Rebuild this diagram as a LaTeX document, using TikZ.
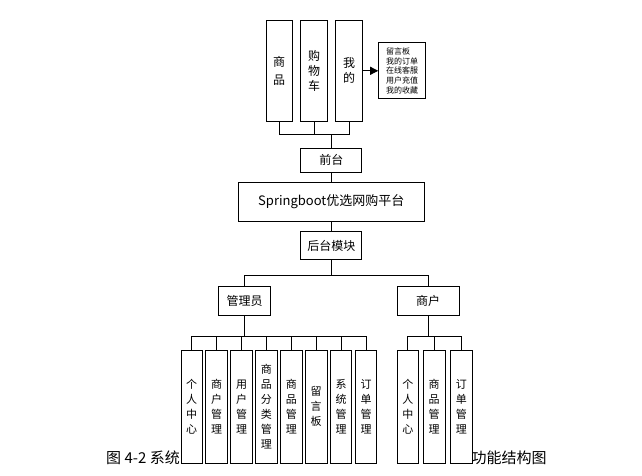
\documentclass[tikz,border=0pt]{standalone}
\usepackage{fontspec}
\setmainfont{Noto Sans CJK SC}
\usetikzlibrary{arrows.meta,positioning}

\begin{document}
\begin{tikzpicture}[x=1pt, y=1pt]
                \tikzstyle{box} = [draw, line width=0.9pt, fill=white, inner sep=0pt, align=center]
                \tikzstyle{top} = [box, minimum width=26.5pt, minimum height=101.5pt, font=\fontsize{12}{15}\selectfont]
                \tikzstyle{mid} = [box, minimum width=61pt, font=\fontsize{12}{14}\selectfont]
                \tikzstyle{col} = [box, minimum width=21.5pt, minimum height=113pt, font=\fontsize{11}{15}\selectfont]
                \tikzstyle{l} = [draw, line width=0.9pt]
                \useasboundingbox (0,0) rectangle (642,-475);

                \node [box, minimum width=186pt, minimum height=38.5pt, font=\fontsize{13}{15}\selectfont] (platform) at (331.3,-201.7) {Springboot优选网购平台};
                \node [mid, minimum height=24.5pt, above=9pt of platform] (front) {前台};
                \node [mid, minimum height=28.5pt, below=9.5pt of platform] (back) {后台模块};

                \node [top] (cart) at (314,-70.8) {购\\物\\车};
                \node [top, left=7.4pt of cart] (goods) {商\\[3pt]品};
                \node [top, right=7.6pt of cart] (mine) {我\\的};
                \node [box, right=15.5pt of mine, minimum width=47pt, minimum height=56pt, align=left, font=\fontsize{8}{9.75}\selectfont] (menu) {留言板\\我的订单\\在线客服\\用户充值\\我的收藏};

                \node [mid, minimum width=52.5pt, minimum height=29.5pt] (admin) at (244.5,-300.8) {管理员};
                \node [mid, minimum width=61.5pt, minimum height=28.5pt] (seller) at (428.2,-300.8) {商户};

                \node [col] (a1) at (191.7,-406.7) {个\\人\\中\\心};
                \node [col, right=2.5pt of a1] (a2) {商\\户\\管\\理};
                \node [col, right=2.5pt of a2] (a3) {用\\户\\管\\理};
                \node [col, right=2.5pt of a3] (a4) {商\\品\\分\\类\\管\\理};
                \node [col, right=2.5pt of a4] (a5) {商\\品\\管\\理};
                \node [col, right=2.5pt of a5] (a6) {留\\言\\板};
                \node [col, right=2.5pt of a6] (a7) {系\\统\\管\\理};
                \node [col, right=2.5pt of a7] (a8) {订\\单\\管\\理};

                \node [col] (s1) at (407.8,-406.7) {个\\人\\中\\心};
                \node [col, right=4pt of s1] (s2) {商\\品\\管\\理};
                \node [col, right=4.8pt of s2] (s3) {订\\单\\管\\理};

                \node [font=\fontsize{15}{18}\selectfont, anchor=east, inner sep=0pt] (cap1) at (180,-458) {图 4-2 系统};
                \node [font=\fontsize{15}{18}\selectfont, anchor=west, inner sep=0pt] (cap2) at (471.5,-458) {功能结构图};

                % front part
                \draw [l] (front.north) -- ++(0,13) coordinate (tj);
                \draw [l] (goods.south) |- (tj) -| (mine.south);
                \draw [l] (cart.south) -- (cart.south |- tj);
                \draw [l, -{Triangle[length=8pt,width=8pt]}] (mine) -- (menu);
                \draw [l] (front) -- (platform);
                \draw [l] (platform) -- (back);

                % back part
                \draw [l] (back.south) -- ++(0,-15) coordinate (mj);
                \draw [l] (admin.north) |- (mj) -| (seller.north);
                \draw [l] (admin.south) -- ++(0,-20) coordinate (aj);
                \draw [l] (a1.north) |- (aj) -| (a8.north);
                \foreach \n in {a2,a3,a4,a5,a6,a7}
                    \draw [l] (\n.north) -- (\n.north |- aj);
                \draw [l] (seller.south) -- ++(0,-21) coordinate (sj);
                \draw [l] (s1.north) |- (sj) -| (s3.north);
                \draw [l] (s2.north) -- (s2.north |- sj);
            \end{tikzpicture}
\end{document}
